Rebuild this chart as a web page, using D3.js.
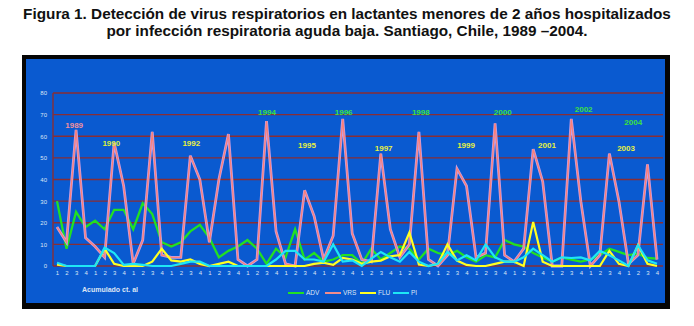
<!DOCTYPE html>
<html>
<head>
  <meta charset="utf-8">
  <script src="https://cdn.jsdelivr.net/npm/d3@7"></script>
  <title>Virus respiratorios</title>
  <style>
    body { margin: 0; background: #fff; }
    text { font-family: "Liberation Sans", Arial, sans-serif; }
  </style>
</head>
<body>
<script>
  // quarters 1989 q1 .. 2004 q4
  var quarterLabels = d3.range(64).map(function(i){ return String(i % 4 + 1); });
  var yTicks = [0, 10, 20, 30, 40, 50, 60, 70, 80];

  var adv = [30, 8, 25, 18, 21, 17, 26, 26, 17, 29, 24, 11, 9, 11, 16, 19,
             13, 4, 7, 9, 12, 8, 1, 8, 4, 17, 3, 6, 2, 3, 5, 5,
             1, 8, 3, 6, 9, 8, 3, 8, 6, 5, 7, 4, 2, 5, 4, 12,
             10, 9, 6, 4, 2, 4, 3, 2, 3, 5, 8, 6.5, 5, 5.7, 3.7, 3.4];
  var vrs = [18, 11, 63, 13, 9, 4, 57, 37, 1, 12, 62, 5, 4, 4, 51, 40,
             11, 40, 61, 3, 0, 3, 67, 16, 1, 0, 35, 23, 3, 14, 68, 15,
             3, 2, 52, 17, 4, 10, 62, 3, 0, 5, 45, 37, 4, 6, 66, 5,
             2, 8, 54, 39, 0, 0, 68, 30, 0, 5, 52, 30, 1, 5, 47, 3];
  var flu = [0.6, 0, 0, 0, 0, 8, 1, 0, 0, 0, 2, 8, 2.6, 2, 3, 1,
             0, 1, 2, 0, 0, 0, 0, 0, 0, 0, 0, 1, 1.5, 0.5, 3.7, 3,
             1, 2, 2.5, 4.5, 5, 15.5, 0.7, 0, 1, 10, 2.5, 0.5, 0, 0, 1, 2,
             2, 0, 20.4, 2, 0, 0, 0, 0, 0, 0, 7, 1, 0, 9.6, 1, 0];
  var pi  = [1.5, 0, 0, 0, 0, 8.5, 6, 0.5, 1, 0.5, 0, 0, 0, 1, 2, 2,
             0, 0, 0, 0, 0, 0, 0, 3, 7, 7, 3, 3, 2, 10, 2, 2.6,
             0, 3.4, 6.5, 4, 2, 6.5, 2, 0, 1, 6.5, 2.6, 5, 2.6, 10, 4, 2,
             2, 4, 8, 5, 2, 4, 3.7, 4, 2.6, 7, 5, 2.6, 0, 9.6, 2.6, 1];

  var seriesNames = ["ADV", "VRS", "FLU", "PI"];
  var seriesColors = ["#22e022", "#f08c8c", "#ffff22", "#1ee6f5"];

  var yearText = ["1989", "1990", "1992", "1994", "1995", "1996", "1997",
                  "1998", "1999", "2000", "2001", "2002", "2003", "2004"];
  var yearQuarter = [1.8, 5.7, 14.1, 22.05, 26.25, 30.1, 34.3,
                     38.2, 42.95, 46.8, 51.45, 55.3, 59.75, 60.5];
  var yearValue = [65.3, 57, 57, 71.3, 56, 71.3, 54.6,
                   71.3, 56, 71.3, 56, 72.7, 54.6, 66.7];
  var yearColor = ["#f0909c", "#dcf040", "#e8f040", "#3ee03e", "#e8f040", "#3ee03e", "#e8f040",
                   "#3ee03e", "#e8f040", "#3ee03e", "#e8f040", "#3ee03e", "#e8f040", "#3ee03e"];

  var width = 694, height = 326;

  var svg = d3.select("body").append("svg")
      .attr("width", width)
      .attr("height", height);

  // title
  var title = svg.append("text")
      .attr("text-anchor", "middle")
      .style("font-weight", "bold")
      .style("font-size", "15.3px")
      .attr("fill", "#111");
  title.append("tspan").attr("x", 347).attr("y", 19)
      .text("Figura 1. Detección de virus respiratorios en lactantes menores de 2 años hospitalizados");
  title.append("tspan").attr("x", 347).attr("y", 36)
      .text("por infección respiratoria aguda baja. Santiago, Chile, 1989 –2004.");

  // frame
  svg.append("rect")
      .attr("x", 22).attr("y", 55)
      .attr("width", 648).attr("height", 254)
      .attr("fill", "#050505");
  svg.append("rect")
      .attr("x", 26).attr("y", 59)
      .attr("width", 639).attr("height", 244)
      .attr("fill", "#0a5ad0");

  var xScale = d3.scaleLinear().domain([0, 63]).range([57, 657]);
  var yScale = d3.scaleLinear().domain([0, 80]).range([266, 93]);
  var gridLeft = 53, gridRight = 663;

  // grid
  svg.selectAll(".grid")
      .data(yTicks)
      .enter()
      .append("line")
      .attr("class", "grid")
      .attr("x1", gridLeft)
      .attr("x2", gridRight)
      .attr("y1", function(d){ return yScale(d); })
      .attr("y2", function(d){ return yScale(d); })
      .style("stroke", "#8a2e34")
      .style("stroke-width", 1.4);
  svg.append("line")
      .attr("x1", gridLeft).attr("x2", gridLeft)
      .attr("y1", yScale(0)).attr("y2", yScale(80))
      .style("stroke", "#8a2e34")
      .style("stroke-width", 1.4);

  // y axis labels
  var yAxis = d3.axisLeft(yScale).tickValues(yTicks).tickSize(0).tickPadding(0);
  var gy = svg.append("g")
      .attr("transform", "translate(47,0)")
      .call(yAxis);
  gy.select(".domain").remove();
  gy.selectAll("text")
      .style("font-size", "6px")
      .style("font-family", "Liberation Sans, Arial, sans-serif")
      .attr("fill", "#dde6f5");

  // x axis labels
  var xAxis = d3.axisBottom(xScale).tickValues(d3.range(64))
      .tickFormat(function(i){ return quarterLabels[i]; })
      .tickSize(0).tickPadding(0);
  var gx = svg.append("g")
      .attr("transform", "translate(0,271)")
      .call(xAxis);
  gx.select(".domain").remove();
  gx.selectAll("text")
      .style("font-size", "6px")
      .style("font-family", "Liberation Sans, Arial, sans-serif")
      .attr("fill", "#dde6f5");

  // lines
  var line = d3.line()
      .x(function(d, i){ return xScale(i); })
      .y(function(d){ return yScale(d); });

  svg.append("path").datum(adv)
      .attr("d", line).attr("fill", "none")
      .style("stroke", seriesColors[0]).style("stroke-width", 2.3);

  // VRS: lavender edge with salmon core
  svg.append("path").datum(vrs)
      .attr("d", line).attr("fill", "none")
      .style("stroke", "#c9a0e6").style("stroke-width", 2.8);
  svg.append("path").datum(vrs)
      .attr("d", line).attr("fill", "none")
      .style("stroke", "#fa8078").style("stroke-width", 1.3);

  svg.append("path").datum(flu)
      .attr("d", line).attr("fill", "none")
      .style("stroke", seriesColors[2]).style("stroke-width", 2.2);

  svg.append("path").datum(pi)
      .attr("d", line).attr("fill", "none")
      .style("stroke", seriesColors[3]).style("stroke-width", 2.2);

  // year annotations
  svg.selectAll(".year")
      .data(yearText)
      .enter()
      .append("text")
      .attr("class", "year")
      .attr("x", function(d, i){ return xScale(yearQuarter[i]); })
      .attr("y", function(d, i){ return yScale(yearValue[i]); })
      .attr("dy", "0.35em")
      .attr("text-anchor", "middle")
      .style("font-size", "8px")
      .style("font-weight", "bold")
      .attr("fill", function(d, i){ return yearColor[i]; })
      .text(function(d){ return d; });

  svg.append("text")
      .attr("x", 82).attr("y", 292)
      .style("font-size", "7px")
      .style("font-weight", "bold")
      .attr("fill", "#dde6f5")
      .text("Acumulado ct. al");

  // legend
  var legendX = [288, 325, 360, 393];
  var legend = svg.selectAll(".legend")
      .data(seriesNames)
      .enter()
      .append("g")
      .attr("class", "legend")
      .attr("transform", function(d, i){ return "translate(" + legendX[i] + ",293)"; });
  legend.append("line")
      .attr("x1", 0).attr("x2", 16)
      .style("stroke", function(d, i){ return seriesColors[i]; })
      .style("stroke-width", 2);
  legend.append("text")
      .attr("x", 18).attr("dy", "0.35em")
      .style("font-size", "6.5px")
      .attr("fill", "#dde6f5")
      .text(function(d){ return d; });
</script>
</body>
</html>
